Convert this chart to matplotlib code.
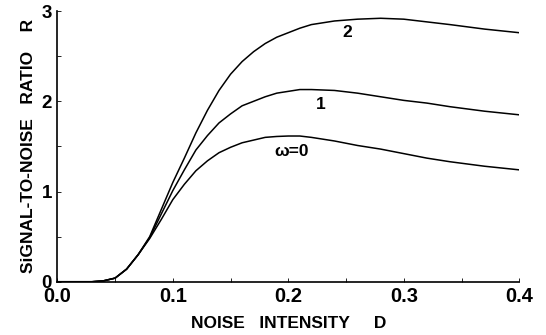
import matplotlib
matplotlib.use("Agg")
import matplotlib.pyplot as plt
from matplotlib.ticker import MultipleLocator, FormatStrFormatter

# noise intensity D
D = [0.0, 0.03, 0.04, 0.05, 0.06, 0.07, 0.08, 0.09, 0.10, 0.11, 0.12, 0.13, 0.14,
     0.15, 0.16, 0.17, 0.18, 0.19, 0.20, 0.21, 0.22, 0.24, 0.26, 0.28, 0.30,
     0.32, 0.34, 0.37, 0.40]
# signal-to-noise ratio R for omega = 0, 1, 2
R0 = [0.0, 0.0, 0.01, 0.04, 0.14, 0.30, 0.48, 0.69, 0.91, 1.08, 1.23, 1.34, 1.43,
      1.49, 1.54, 1.57, 1.60, 1.61, 1.615, 1.615, 1.60, 1.56, 1.51, 1.47, 1.42,
      1.37, 1.33, 1.28, 1.24]
R1 = [0.0, 0.0, 0.01, 0.04, 0.14, 0.30, 0.49, 0.75, 1.01, 1.24, 1.46, 1.62, 1.76,
      1.86, 1.95, 2.00, 2.05, 2.09, 2.11, 2.13, 2.13, 2.12, 2.09, 2.05, 2.01,
      1.98, 1.94, 1.89, 1.85]
R2 = [0.0, 0.0, 0.01, 0.04, 0.14, 0.30, 0.50, 0.80, 1.10, 1.37, 1.65, 1.90, 2.12,
      2.30, 2.44, 2.55, 2.64, 2.71, 2.76, 2.81, 2.85, 2.89, 2.91, 2.92, 2.91,
      2.88, 2.85, 2.80, 2.76]

labels = ["\u03c9=0", "1", "2"]
label_pos = [(0.203, 1.44), (0.228, 1.96), (0.251, 2.76)]

plt.rcParams['font.family'] = ['Liberation Sans', 'DejaVu Sans']

fig = plt.figure(figsize=(5.46, 3.35), dpi=100)
ax = fig.add_axes([0.105, 0.159, 0.846, 0.808])

for r in (R0, R1, R2):
    ax.plot(D, r, color='k', lw=1.1)

for txt, (x, y) in zip(labels, label_pos):
    ax.text(x, y, txt, ha='center', va='center', fontsize=12.5, fontweight='bold')

ax.set_xlim(0, 0.4)
ax.set_ylim(0, 3)
ax.xaxis.set_major_locator(MultipleLocator(0.1))
ax.xaxis.set_minor_locator(MultipleLocator(0.05))
ax.yaxis.set_major_locator(MultipleLocator(1))
ax.yaxis.set_minor_locator(MultipleLocator(0.5))
ax.xaxis.set_major_formatter(FormatStrFormatter('%.1f'))
ax.tick_params(which='both', direction='in', length=3, width=0.6)
ax.tick_params(axis='x', labelsize=14.5, pad=4)
ax.tick_params(axis='y', labelsize=13.5, pad=4)
for t in ax.get_xticklabels() + ax.get_yticklabels():
    t.set_fontweight('bold')

ax.spines['top'].set_visible(False)
ax.spines['right'].set_visible(False)
ax.spines['left'].set_linewidth(1.2)
ax.spines['bottom'].set_linewidth(1.2)

ax.set_xlabel("NOISE   INTENSITY     D", fontsize=12.5, fontweight='bold', labelpad=7)
ax.set_ylabel("SiGNAL-TO-NOISE   RATIO    R", fontsize=12.5, fontweight='bold', labelpad=4)

plt.savefig("out.png", dpi=100)
